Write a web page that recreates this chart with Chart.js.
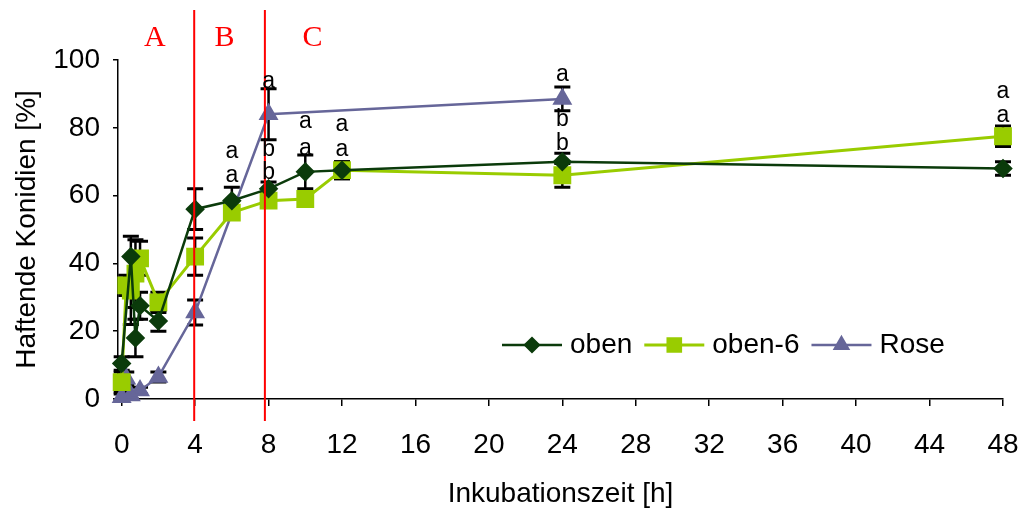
<!DOCTYPE html>
<html>
<head>
<meta charset="utf-8">
<script src="https://cdn.jsdelivr.net/npm/chart.js@4.4.1/dist/chart.umd.min.js"></script>
<style>
html, body { margin: 0; padding: 0; background: #fff; }
</style>
</head>
<body>
<canvas id="chart" width="1018" height="508"></canvas>
<script>
// time points [h] and adhering conidia [%] with standard errors
const obenT   = [0, 0.5, 0.75, 1, 2, 4, 6, 8, 10, 12, 24, 48];
const obenY   = [10.5, 42, 18, 27.5, 23, 56, 58.5, 62, 67, 67.5, 70, 68];
const obenErr = [2, 6, 5.5, 4, 3, 6, 4, 2, 5, 2.5, 2.5, 2];

const oben6T   = [0, 0.25, 0.5, 0.75, 1, 2, 4, 6, 8, 10, 12, 24, 48];
const oben6Y   = [5, 33.5, 32, 37, 41.5, 28.5, 42, 55, 58.5, 59, 67.5, 66, 77.5];
const oben6Err = [3, 3, 10, 10, 5, 3, 5.5, 1.5, 2, 2, 2.5, 3.5, 3];

const roseT   = [0, 0.25, 0.5, 1, 2, 4, 8, 24];
const roseY   = [0.5, 6, 1, 2.5, 6.5, 25.5, 84, 88.5];
const roseErr = [1, 2, 1, 1, 1.5, 3.7, 7.5, 3.5];

const xTicks = [0, 4, 8, 12, 16, 20, 24, 28, 32, 36, 40, 44, 48];

// significance letters (x, y in data units)
const letterX = [6, 6, 8, 8, 8, 10, 10, 12, 12, 24, 24, 24, 48, 48];
const letterY = [73, 66, 93.6, 73.5, 66.7, 81.8, 73.9, 80.8, 73.5, 95.6, 82.3, 75.4, 90.7, 83.5];
const letterT = ['a', 'a', 'a', 'b', 'b', 'a', 'a', 'a', 'a', 'a', 'b', 'b', 'a', 'a'];

// phase borders and phase names
const phaseLines = [3.95, 7.8];
const phaseX = [1.8, 5.6, 10.4];
const phaseNames = ['A', 'B', 'C'];

const pts = (t, v, e) => t.map((x, i) => ({x: x, y: v[i], err: e[i]}));

const errorBars = {
  id: 'errorBars',
  beforeDatasetsDraw(chart) {
    const ctx = chart.ctx, xs = chart.scales.x, ys = chart.scales.y;
    ctx.save();
    ctx.strokeStyle = '#000';
    chart.data.datasets.forEach(ds => {
      ds.data.forEach(p => {
        const px = xs.getPixelForValue(p.x);
        const top = ys.getPixelForValue(p.y + p.err);
        const bot = ys.getPixelForValue(p.y - p.err);
        ctx.lineWidth = 2.5;
        ctx.beginPath();
        ctx.moveTo(px, top);
        ctx.lineTo(px, bot);
        ctx.stroke();
        ctx.lineWidth = 3;
        ctx.beginPath();
        ctx.moveTo(px - 8, top); ctx.lineTo(px + 8, top);
        ctx.moveTo(px - 8, bot); ctx.lineTo(px + 8, bot);
        ctx.stroke();
      });
    });
    ctx.restore();
  }
};

const extras = {
  id: 'extras',
  afterDatasetsDraw(chart) {
    const ctx = chart.ctx, xs = chart.scales.x, ys = chart.scales.y, area = chart.chartArea;
    ctx.save();
    // red phase lines
    ctx.strokeStyle = '#ff0000';
    ctx.lineWidth = 2;
    phaseLines.forEach(v => {
      const px = xs.getPixelForValue(v);
      ctx.beginPath();
      ctx.moveTo(px, area.top - 50);
      ctx.lineTo(px, area.bottom + 22);
      ctx.stroke();
    });
    ctx.fillStyle = '#ff0000';
    ctx.font = '30px "Liberation Serif", "Times New Roman", serif';
    ctx.textAlign = 'center';
    ctx.textBaseline = 'middle';
    phaseNames.forEach((n, i) => {
      ctx.fillText(n, xs.getPixelForValue(phaseX[i]), area.top - 22);
    });
    // letters
    ctx.fillStyle = '#000';
    ctx.font = '23px "Liberation Sans", Arial, sans-serif';
    letterT.forEach((s, i) => {
      ctx.fillText(s, xs.getPixelForValue(letterX[i]), ys.getPixelForValue(letterY[i]));
    });
    ctx.restore();
  },
  afterDraw(chart) {
    // legend: line with marker, then name
    const ctx = chart.ctx, area = chart.chartArea;
    ctx.save();
    ctx.font = '28px "Liberation Sans", Arial, sans-serif';
    ctx.textBaseline = 'middle';
    ctx.textAlign = 'left';
    let x = area.left + 384;
    const y = area.top + 285;
    chart.data.datasets.forEach(ds => {
      ctx.strokeStyle = ds.borderColor;
      ctx.lineWidth = ds.borderWidth;
      ctx.beginPath();
      ctx.moveTo(x, y);
      ctx.lineTo(x + 60, y);
      ctx.stroke();
      Chart.helpers.drawPoint(ctx, {
        pointStyle: ds.pointStyle, radius: ds.pointRadius * 0.85, borderWidth: 1, rotation: 0
      }, x + 30, y);
      ctx.fillStyle = ds.pointBackgroundColor;
      ctx.fill();
      ctx.fillStyle = '#000';
      ctx.fillText(ds.label, x + 68, y);
      x += 68 + ctx.measureText(ds.label).width + 12;
    });
    ctx.restore();
  }
};

new Chart(document.getElementById('chart'), {
  type: 'line',
  data: {
    datasets: [{
      label: 'oben',
      data: pts(obenT, obenY, obenErr),
      borderColor: '#0b3b0b',
      backgroundColor: '#0b3b0b',
      pointBackgroundColor: '#0b3b0b',
      pointBorderColor: '#0b3b0b',
      borderWidth: 2.5,
      pointStyle: 'rectRot',
      pointRadius: 8,
      clip: false
    }, {
      label: 'oben-6',
      data: pts(oben6T, oben6Y, oben6Err),
      borderColor: '#99cc00',
      backgroundColor: '#99cc00',
      pointBackgroundColor: '#99cc00',
      pointBorderColor: '#99cc00',
      borderWidth: 3,
      pointStyle: 'rect',
      pointRadius: 10.5,
      clip: false
    }, {
      label: 'Rose',
      data: pts(roseT, roseY, roseErr),
      borderColor: '#666699',
      backgroundColor: '#666699',
      pointBackgroundColor: '#666699',
      pointBorderColor: '#666699',
      borderWidth: 2.5,
      pointStyle: 'triangle',
      pointRadius: 9,
      clip: false
    }]
  },
  options: {
    responsive: false,
    animation: false,
    layout: { padding: { top: 60, right: 15, left: 0, bottom: 0 } },
    plugins: { legend: { display: false }, tooltip: { enabled: false } },
    scales: {
      x: {
        type: 'linear',
        min: -0.2,
        max: 48,
        afterBuildTicks: axis => { axis.ticks = xTicks.map(v => ({value: v})); },
        afterFit: scale => { scale.height = 109; scale.paddingLeft = 0; scale.paddingRight = 0; },
        grid: { drawOnChartArea: false, drawTicks: true, tickLength: 7, color: '#000', lineWidth: 1.5 },
        border: { display: true, color: '#000', width: 1.5 },
        ticks: { color: '#000', padding: 22, maxRotation: 0, autoSkip: false,
                 font: { family: '"Liberation Sans", Arial, sans-serif', size: 28 } },
        title: { display: true, text: 'Inkubationszeit [h]', color: '#000', padding: { top: 0, bottom: -3 },
                 font: { family: '"Liberation Sans", Arial, sans-serif', size: 28 } }
      },
      y: {
        min: 0,
        max: 100,
        afterFit: scale => { scale.width = 118; scale.paddingTop = 0; scale.paddingBottom = 0; },
        grid: { drawOnChartArea: false, drawTicks: true, tickLength: 5, color: '#000', lineWidth: 1.5 },
        border: { display: true, color: '#000', width: 1.5 },
        ticks: { stepSize: 20, color: '#000', padding: 13,
                 font: { family: '"Liberation Sans", Arial, sans-serif', size: 28 } },
        title: { display: true, text: 'Haftende Konidien [%]', color: '#000', padding: { top: 10 },
                 font: { family: '"Liberation Sans", Arial, sans-serif', size: 28 } }
      }
    }
  },
  plugins: [errorBars, extras]
});
</script>
</body>
</html>
